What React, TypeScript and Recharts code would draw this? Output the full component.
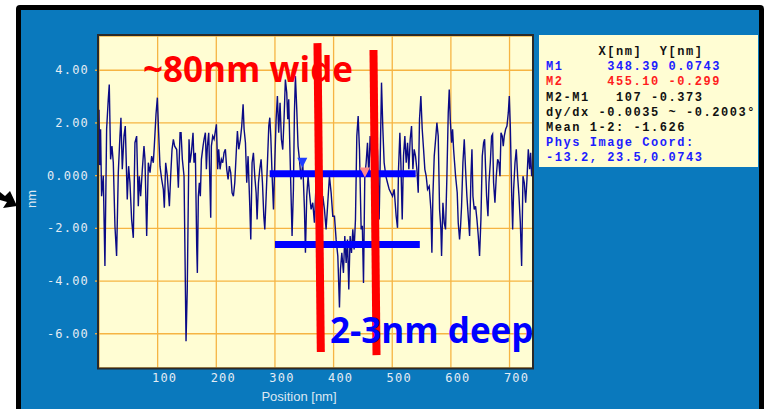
import React from 'react';
import {
  LineChart,
  Line,
  XAxis,
  YAxis,
  CartesianGrid,
  ReferenceLine,
  ReferenceDot
} from 'recharts';

// height profile, [position nm, height nm]
const profileA: number[][] = [
  [0, 2.5], [1.2, 0.4], [2.7, 1.76], [4.4, -0.78], [7.3, 0.0], [10.1, -3.43], [13, 1.76],
  [15.8, 2.9], [17.5, 3.46], [19.8, 0.62], [22.1, 1.12], [24.4, 0.49], [27.2, -1.92],
  [30, -3.05], [32.9, 0.11], [35.7, 1.5], [37.4, 2.2], [39.7, 0.24], [42.6, 1.5], [44.8, 1.88],
  [48.2, -0.9], [50.5, 0.36], [52.8, -0.27], [55.6, -1.66], [58.5, -2.36], [61.3, 1.25],
  [64.2, 1.5], [67, -1.16], [68.7, -0.02], [71, -0.78], [73.9, 0.24], [76.7, 1.12], [78.4, 0.62],
  [81.3, -2.29], [84.1, 0.49], [87, 0.11], [89.8, 0.74], [92.6, 0.49], [94.3, 1.12], [97.2, 2.33],
  [99.5, 2.96], [101.7, 1.63], [104, 0.36], [106.9, -0.14], [109.7, -0.52], [111.4, -1.22],
  [113.7, 0.49], [116.5, -0.02], [120, -1.16], [122.2, -0.02], [124.5, 0.99], [126.8, 1.38],
  [129, 1.12], [132.5, 0.99], [135.3, -0.46], [138.2, 1.63], [139.9, 1.63], [142.1, 0.62],
  [145, -0.02], [146.7, -3.12], [148.4, -6.28], [150.5, -4.3]
];

const profileB: number[][] = [
  [152.5, -0.52], [153.5, 1.38], [155.2, 0.49], [157.5, 0.87], [160.3, 1.63], [162, 0.49],
  [164.3, 0.87], [166.6, -2.67], [167.7, -3.69], [169.4, -0.78], [171.1, -0.27], [172.8, -0.78],
  [174.6, 0.62], [177.4, 1.12], [179.1, 1.38], [181.4, 1.63], [183.1, 0.24], [184.8, 1.12],
  [187.1, 1.63], [188.8, -0.02], [190.5, -1.6], [191.6, 1.12], [193.9, 1.5], [196.2, 1.38],
  [198.4, 1.69], [200.2, 1.95], [202.4, 0.24], [204.1, 1.0], [206.4, 0.24], [208.7, 0.62],
  [211, 0.49], [213.2, 0.87], [215.5, 1.0], [217.8, 0.24], [220.1, -0.14], [222.3, 0.36],
  [224.6, 0.11], [226.9, -0.65], [229.2, -0.78], [231.5, -0.27], [234.3, 1.0], [236, 1.69],
  [238.3, 1.0], [241.1, 1.38], [243.4, 1.88], [245.7, 2.71], [247.4, 1.76], [249.7, 1.25],
  [251.9, -0.27], [254.2, 0.74], [257.1, -1.16], [258.8, -2.42], [261, 0.49], [263.3, 0.87],
  [265.6, -0.02], [267.9, -0.65], [269.6, -1.66], [271.9, -0.27], [274.1, 0.24], [276.4, 0.62],
  [278.7, -0.27], [281, -1.54], [282.7, -2.04], [285, -0.78], [287.2, 0.49], [289.5, 1.88],
  [291.2, 2.2], [292.9, 1.5], [295.2, -0.02], [297.5, -1.28], [299.7, 0.49], [302, 2.14]
];

const profileC: number[][] = [
  [304.2, 3.02], [306.4, 1.63], [308.7, 2.77], [311, 1.38], [313.3, 0.99], [315.5, 2.14],
  [317.8, 3.65], [320.1, 3.15], [321.8, 2.14], [323.5, 2.9], [325.8, 0.74], [327.5, -0.78],
  [329.2, -2.29], [331.5, -0.52], [333.2, 2.39], [334.9, 3.78], [337.2, 2.52], [339.4, 1.12],
  [341.7, 0.62], [344.6, -0.14], [347.4, 0.49], [350.3, -1.28], [352, -2.93], [354.2, -0.78],
  [356.5, -0.02], [358.8, -0.65], [361.6, -1.28], [364.5, -1.03], [367.3, -1.79], [370.2, -0.27],
  [373, -0.78], [375.9, -1.54], [378.7, -2.29], [381.6, -0.78], [384.4, -1.28], [387.2, -2.04],
  [390.1, -1.03], [392.9, -0.02], [395.8, -0.65], [398.6, -1.54], [401.5, -1.54], [404.3, -2.42],
  [407.2, -3.05], [410, -5.0], [411.7, -3.56], [414, -2.93], [416.8, -3.69], [419.1, -2.29],
  [421.4, -3.31], [423.7, -2.42], [425.9, -4.32], [428.2, -2.29], [430.5, -2.93], [432.8, -2.04],
  [435, -2.8], [437.3, -1.66], [439.6, 1.5], [441.9, 2.26], [444.1, 1.0], [447, -2.04],
  [449, -1.9], [451, -4.07]
];

const profileD: number[][] = [
  [453.2, -0.02], [455.5, 0.49], [457.8, 1.25], [460.1, -0.02], [462.3, 1.5], [466.3, 0.24],
  [469.2, 2.14], [472, 2.39], [474.9, 0.87], [477.7, -1.66], [479.4, 0.49], [481.7, 3.53],
  [484, 1.76], [486.2, 0.49], [489.1, -0.02], [491.9, -0.27], [494.8, -0.52], [497.6, -0.65],
  [500.5, -0.78], [503.3, -0.52], [505, -1.03], [506.7, -1.54], [509, -1.98], [510.7, 0.24],
  [513, 1.63], [514.7, 0.49], [517, -1.66], [519.2, 0.74], [521.5, 1.5], [523.8, 0.49],
  [526.1, 1.25], [528.3, 0.24], [530.6, 1.38], [532.9, 1.88], [535.2, 0.24], [537.4, 1.0],
  [539.7, 0.74], [542, 0.24], [544.3, -0.65], [546.5, 2.14], [548.8, 3.02], [551.1, 1.76],
  [553.4, 1.0], [555.6, 0.24], [557.9, -0.02], [560.2, -0.52], [563, -0.4], [565.9, -1.28],
  [567.6, -2.93], [569.3, -0.78], [571.6, 0.74], [574.4, 1.5], [576.1, 2.01], [578.4, 1.5],
  [580.7, -1.28], [583, -2.04], [584.1, -3.05], [586.4, -1.03], [588.7, -1.79], [590.9, -2.04],
  [593.2, -0.02], [595.5, 2.39], [597.2, 3.27], [598.9, 2.14], [601.2, 1.25], [602.9, 1.76]
];

const profileE: number[][] = [
  [604.6, 1.0], [606.3, 0.49], [608, -0.02], [610.8, -0.65], [612.5, -1.79], [614.8, -2.42],
  [616.5, -1.92], [618.2, -1.16], [620.5, 0.49], [622.8, 1.38], [625, 0.24], [627.3, -0.78],
  [629.6, -1.54], [631.9, -2.29], [634.2, -0.02], [635.9, 1.0], [637.6, -0.78], [639.8, -1.28],
  [642.1, -1.16], [644.4, -1.66], [646.7, -2.29], [648.9, -3.05], [651.2, -1.66], [653.5, 0.74],
  [655.8, 1.25], [657.5, 1.38], [659.2, 0.24], [660.9, -0.78], [663.2, -1.54], [664.9, -0.27],
  [667.2, 0.49], [669.4, 1.5], [671.1, 1.57], [672.8, -0.27], [675.1, -1.03], [677.4, -0.02],
  [679.7, 0.62], [681.9, 0.49], [683.7, -0.02], [685.4, 1.63], [687.6, 1.5], [689.3, 1.12],
  [691, 1.5], [693.3, 1.76], [695.6, 1.88], [697.9, 2.39], [699.6, 3.02], [701.3, 1.88],
  [703.6, -0.65], [705.3, -2.04], [707, -0.52], [709.3, 0.49], [711.5, 1.0], [713.8, -0.02],
  [716.1, -0.78], [718.4, -1.79], [720.6, -3.43], [722.9, -0.02], [725.2, -0.27], [727.5, -1.03],
  [729.7, -0.14], [732, 1.0], [734.3, 0.24], [736, 0.87], [737.7, -0.02]
];

const xTicks = [100, 200, 300, 400, 500, 600, 700];
const yTicks = [-6, -4, -2, 0, 2, 4];

// cursors M1 / M2
const markerX = [348.39, 455.1];
const markerY = [0.0743, -0.299];
const markerColor = ['#1f3dff', '#ff8a8a'];

// hand drawn strokes on top of the plot, in data units
const redStrokes = [
  [{ x: 372.5, y: 5.03 }, { x: 378.2, y: -6.69 }],
  [{ x: 468, y: 4.77 }, { x: 473.2, y: -6.81 }]
];
const blueStrokes = [
  [{ x: 291, y: 0.0743 }, { x: 540, y: 0.0743 }],
  [{ x: 300, y: -2.61 }, { x: 547, y: -2.61 }]
];

const infoLines = [
  { text: '      X[nm]  Y[nm]', color: '#111' },
  { text: 'M1     348.39 0.0743', color: '#1c1cff' },
  { text: 'M2     455.10 -0.299', color: '#ff1c1c' },
  { text: 'M2-M1   107 -0.373', color: '#111' },
  { text: 'dy/dx -0.0035 ~ -0.2003°', color: '#111' },
  { text: 'Mean 1-2: -1.626', color: '#111' },
  { text: 'Phys Image Coord:', color: '#1c1cff' },
  { text: '-13.2, 23.5,0.0743', color: '#1c1cff' }
];

const chartData = [...profileA, ...profileB, ...profileC, ...profileD, ...profileE].map(
  ([x, y]) => ({ x, y })
);

const BLUE_BG = '#0a79bd';
const GRID = '#f6b443';
const TICK_TXT = '#e4ecf4';

const XTick = (props: any) => {
  const { x, y, payload } = props;
  return (
    <text
      x={x + 7}
      y={y}
      textAnchor="middle"
      dominantBaseline="central"
      fill={TICK_TXT}
      fontSize={12}
      fontFamily="DejaVu Sans Mono"
      letterSpacing={1.2}
    >
      {payload.value}
    </text>
  );
};

const YTick = (props: any) => {
  const { x, y, payload } = props;
  const label = payload.value === 0 ? '0.000' : payload.value.toFixed(2);
  return (
    <text
      x={x}
      y={y}
      textAnchor="end"
      dominantBaseline="central"
      fill={TICK_TXT}
      fontSize={12}
      fontFamily="DejaVu Sans Mono"
      letterSpacing={1.2}
    >
      {label}
    </text>
  );
};

const markerShape = (color: string) => (p: any) => {
  const { cx, cy } = p;
  return (
    <polygon
      points={`${cx - 6},${cy - 16} ${cx + 4},${cy - 16} ${cx - 1},${cy - 6}`}
      fill={color}
    />
  );
};

const App: React.FC = () => {
  return (
    <div style={{ position: 'absolute', left: 0, top: 0, width: 767, height: 409, overflow: 'hidden', background: '#fff' }}>
      <div
        style={{
          position: 'absolute',
          left: 16,
          top: 5,
          width: 748,
          height: 410,
          boxSizing: 'border-box',
          border: '5px solid #000',
          borderRadius: 4,
          background: BLUE_BG
        }}
      />

      <div style={{ position: 'absolute', left: 0, top: 0 }}>
        <LineChart
          width={767}
          height={409}
          data={chartData}
          margin={{ top: 36, right: 234, bottom: 21, left: 39 }}
        >
          <CartesianGrid stroke={GRID} strokeWidth={1.3} fill="#fffdd3" fillOpacity={1} />
          <XAxis
            dataKey="x"
            type="number"
            domain={[0, 740]}
            ticks={xTicks}
            interval={0}
            height={20}
            tickSize={0}
            tickMargin={10}
            axisLine={false}
            tickLine={false}
            tick={XTick}
            allowDataOverflow
          />
          <YAxis
            type="number"
            domain={[-7.3, 5.3]}
            ticks={yTicks}
            interval={0}
            width={60}
            tickSize={4}
            tickMargin={6}
            axisLine={false}
            tickLine={{ stroke: GRID, strokeWidth: 1.3 }}
            tick={YTick}
            allowDataOverflow
          />
          <Line
            type="linear"
            dataKey="y"
            stroke="#0b0b86"
            strokeWidth={1.4}
            dot={false}
            isAnimationActive={false}
          />
          {markerX.map((mx, i) => (
            <ReferenceDot
              key={`m${i}`}
              x={mx}
              y={markerY[i]}
              ifOverflow="visible"
              shape={markerShape(markerColor[i])}
            />
          ))}
          {blueStrokes.map((seg, i) => (
            <ReferenceLine key={`b${i}`} segment={seg} stroke="#0000ff" strokeWidth={7} ifOverflow="visible" />
          ))}
          {redStrokes.map((seg, i) => (
            <ReferenceLine key={`r${i}`} segment={seg} stroke="#ff0000" strokeWidth={8} ifOverflow="visible" />
          ))}
        </LineChart>
      </div>

      <svg width={767} height={409} style={{ position: 'absolute', left: 0, top: 0, pointerEvents: 'none' }}>
        <rect x={98} y={35} width={435} height={333.5} fill="none" stroke="#2a2a2a" strokeWidth={2} />
        <text x={143} y={82} fill="#ff0000" fontSize={35} fontWeight="bold" fontFamily="Open Sans">
          ~80nm wide
        </text>
        <text x={330} y={343} fill="#0000ff" fontSize={35} fontWeight="bold" fontFamily="Open Sans">
          2-3nm deep
        </text>
        <text
          transform="translate(31,199) rotate(-90)"
          textAnchor="middle"
          dominantBaseline="central"
          fill="#dde8f2"
          fontSize={13}
          fontFamily="Liberation Sans"
        >
          nm
        </text>
        <text x={299} y={396} textAnchor="middle" dominantBaseline="central" fill="#dde8f2" fontSize={13} fontFamily="Liberation Sans">
          Position [nm]
        </text>
        <polygon points="0,192 5,196 10,191 17,206 3,208 7,202 0,200" fill="#000" />
      </svg>

      <div
        style={{
          position: 'absolute',
          left: 539,
          top: 35,
          width: 219,
          height: 132,
          boxSizing: 'border-box',
          background: '#fffdd3',
          padding: '10px 0 0 7px',
          fontFamily: 'Liberation Mono',
          fontWeight: 'bold',
          fontSize: 12,
          letterSpacing: 1.55,
          lineHeight: '15.2px',
          whiteSpace: 'pre'
        }}
      >
        {infoLines.map((l, i) => (
          <div key={i} style={{ color: l.color }}>
            {l.text}
          </div>
        ))}
      </div>
    </div>
  );
};

export default App;
